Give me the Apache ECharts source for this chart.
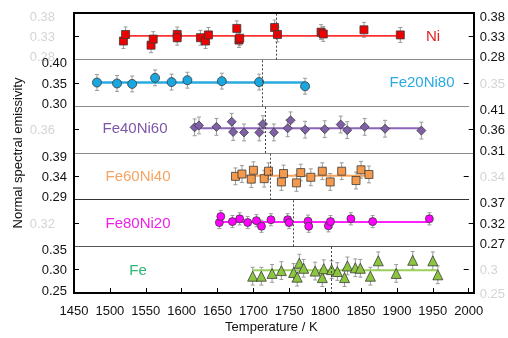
<!DOCTYPE html>
<html><head><meta charset="utf-8">
<script src="https://cdn.jsdelivr.net/npm/echarts@6/dist/echarts.min.js"></script>
<style>html,body{margin:0;padding:0;background:#fff}#c{width:508px;height:338px}</style>
</head><body><div id="c"></div>
<script>
// ---- data ----
const panelNames = ['Ni', 'Fe20Ni80', 'Fe40Ni60', 'Fe60Ni40', 'Fe80Ni20', 'Fe'];

const niT = [1518,1521,1556,1559,1592,1592,1624,1631,1635,1674,1677,1678,1726,1730,1790,1793,1849,1899];
const niV = [0.320,0.334,0.311,0.324,0.334,0.327,0.327,0.320,0.333,0.347,0.322,0.326,0.349,0.334,0.339,0.335,0.344,0.333];

const fe20T = [1482,1510,1531,1563,1586,1608,1656,1708,1772];
const fe20V = [0.351,0.349,0.348,0.361,0.352,0.356,0.354,0.352,0.343];

const fe40T = [1616,1622,1646,1667,1669,1684,1705,1710,1725,1744,1748,1768,1795,1817,1826,1850,1878,1928];
const fe40V = [0.365,0.369,0.366,0.377,0.355,0.354,0.354,0.372,0.354,0.363,0.380,0.360,0.361,0.371,0.359,0.366,0.362,0.358];

const fe60T = [1675,1684,1697,1700,1715,1721,1739,1742,1760,1766,1780,1796,1807,1823,1843,1850,1861];
const fe60V = [0.340,0.345,0.334,0.353,0.335,0.351,0.328,0.346,0.326,0.348,0.338,0.351,0.328,0.351,0.331,0.354,0.344];

const fe80T = [1650,1652,1668,1678,1689,1701,1708,1721,1744,1746,1772,1773,1800,1803,1831,1861,1939];
const fe80V = [0.321,0.334,0.323,0.329,0.321,0.325,0.313,0.327,0.327,0.321,0.324,0.313,0.314,0.323,0.329,0.323,0.329];

const feT = [1699,1711,1726,1739,1756,1761,1764,1770,1786,1796,1798,1809,1817,1827,1831,1842,1849,1863,1874,1899,1922,1950,1957];
const feV = [0.286,0.286,0.292,0.298,0.294,0.284,0.314,0.303,0.297,0.283,0.302,0.300,0.296,0.283,0.308,0.304,0.303,0.286,0.319,0.292,0.320,0.319,0.289];

const errHalf   = [0.016, 0.017, 0.018, 0.018, 0.013, 0.019];
const fitLevel  = [0.331, 0.351, 0.363, 0.341, 0.322, 0.299];
const fitStart  = [1518, 1482, 1616, 1675, 1650, 1699];
const fitEnd    = [1899, 1772, 1928, 1861, 1939, 1957];
const liquidus  = [1728, 1712, 1713, 1723, 1752, 1808];

const yMin = [0.28, 0.30, 0.31, 0.29, 0.27, 0.25];
const yMax = [0.38, 0.40, 0.41, 0.39, 0.37, 0.35];
const yMid = [0.33, 0.35, 0.36, 0.34, 0.32, 0.30];

const xTicks = [1450, 2000, 50];
const xTitle = 'Temperature / K';
const yTitle = 'Normal spectral emissivity';

// ---- styles ----
const allT = [niT, fe20T, fe40T, fe60T, fe80T, feT];
const allV = [niV, fe20V, fe40V, fe60V, fe80V, feV];
const symbols = ['rect', 'circle', 'diamond', 'rect', 'circle', 'triangle'];
const symSize = [8, 9, 9, 8, 8, 10];
const fillCol = ['#ee0000', '#1aa6df', '#7f5fa8', '#f59a4c', '#ff00ff', '#8cc63f'];
const lineCol = ['#ff3030', '#29abe2', '#8c65b8', '#f7a35c', '#ff22ff', '#9bd05a'];
const lineW   = [1.6, 2.5, 2, 2, 2, 2];
const labCol  = ['#e31e24', '#29abe2', '#7e57a8', '#f5a462', '#ee1fe6', '#2bb673'];
const labPos  = [[433, 37], [422, 83], [135, 129], [138, 177], [138, 224], [138, 271]];
const sepCol  = ['#8a8a8a', '#8a8a8a', '#8a8a8a', '#333', '#555', '#000'];

const L = 74, T0 = 13, W = 400, H = 280, PH = H / 6;
const FONT = 'Liberation Sans, Arial, sans-serif';

function lab(v, i, col) {
  const s = (Math.abs(v - yMax[i]) < 1e-6) ? 't' : (Math.abs(v - yMin[i]) < 1e-6 ? 'b' : 'm');
  return '{' + s + '|' + v.toFixed(2) + '}';
}
function richFor(col) {
  return {
    t: {padding: [8, 0, 0, 0], fontSize: 13, color: col, fontFamily: FONT},
    m: {padding: [2, 0, 0, 0], fontSize: 13, color: col, fontFamily: FONT},
    b: {padding: [0, 0, 4, 0], fontSize: 13, color: col, fontFamily: FONT}
  };
}
const GHOST = '#d4d4d4';

const grids = [], xAxes = [], yAxes = [], series = [];
for (let i = 0; i < 6; i++) {
  grids.push({left: L, top: T0 + i * PH, width: W, height: PH, show: false});
  const last = i === 5;
  xAxes.push({
    type: 'value', gridIndex: i, min: xTicks[0], max: xTicks[1], interval: xTicks[2],
    position: 'bottom',
    axisLine: {show: true, onZero: false, lineStyle: {color: sepCol[i], width: last ? 2 : 1}},
    axisTick: {show: last, inside: true, length: 5, lineStyle: {color: '#000', width: 1}},
    axisLabel: {show: last, margin: 12, fontSize: 13, color: '#111', fontFamily: FONT,
                formatter: (v) => String(v)},
    splitLine: {show: false},
    name: last ? xTitle : '', nameLocation: 'middle', nameGap: 28,
    nameTextStyle: {fontSize: 13, color: '#111', fontFamily: FONT}
  });
  const blackRight = (i % 2 === 0);
  let ghostVals = [yMid[i]];
  if (i === 0) ghostVals = [yMin[i], yMid[i], yMax[i]];
  if (i === 5) ghostVals = [yMin[i], yMid[i]];
  const mk = (pos) => {
    const isBlack = (pos === 'right') === blackRight;
    const col = isBlack ? '#111' : GHOST;
    return {
      type: 'value', gridIndex: i, min: yMin[i], max: yMax[i], position: pos,
      axisLine: {show: false},
      axisTick: {show: true, inside: true, length: 5, customValues: [yMid[i]], lineStyle: {color: '#000', width: 1}},
      axisLabel: {
        show: true, customValues: isBlack ? [yMin[i], yMid[i], yMax[i]] : ghostVals,
        margin: isBlack ? (pos === 'left' ? 7 : 6) : (pos === 'left' ? 19 : 11),
        formatter: (v) => (i === 5 && !isBlack) ? ('{m|' + String(Math.round(v * 100) / 100) + '}') : lab(v, i, col),
        rich: richFor(col)
      },
      splitLine: {show: false}
    };
  };
  yAxes.push(mk('left'));
  yAxes.push(mk('right'));

  const pts = allT[i].map((t, k) => [t, allV[i][k], errHalf[i]]);
  series.push({
    type: 'custom', xAxisIndex: i, yAxisIndex: 2 * i, z: 2, silent: true,
    encode: {x: 0, y: 1},
    data: pts,
    renderItem: (params, api) => {
      const x = api.value(0), y = api.value(1), e = api.value(2);
      const a = api.coord([x, y + e]), b = api.coord([x, y - e]);
      const w = 2;
      const st = {stroke: '#9a9a9a', lineWidth: 1};
      return {type: 'group', children: [
        {type: 'line', shape: {x1: a[0], y1: a[1], x2: b[0], y2: b[1]}, style: st},
        {type: 'line', shape: {x1: a[0] - w, y1: a[1], x2: a[0] + w, y2: a[1]}, style: st},
        {type: 'line', shape: {x1: b[0] - w, y1: b[1], x2: b[0] + w, y2: b[1]}, style: st}
      ]};
    }
  });
  series.push({
    type: 'line', xAxisIndex: i, yAxisIndex: 2 * i, z: 3, silent: true,
    data: [[fitStart[i], fitLevel[i]], [fitEnd[i], fitLevel[i]]],
    showSymbol: false, lineStyle: {color: lineCol[i], width: lineW[i]},
    markLine: {
      symbol: 'none', silent: true, label: {show: false},
      lineStyle: {type: [2, 2], color: '#444', width: 1},
      data: [{xAxis: liquidus[i]}]
    }
  });
  series.push({
    type: 'scatter', xAxisIndex: i, yAxisIndex: 2 * i, z: 4, silent: true,
    symbol: symbols[i], symbolSize: symSize[i],
    data: allT[i].map((t, k) => [t, allV[i][k]]),
    itemStyle: {color: fillCol[i], borderColor: '#3a3a3a', borderWidth: 0.8, opacity: 1}
  });
}

const graphics = [
  {type: 'rect', z: 100, shape: {x: L, y: T0, width: W, height: H}, style: {fill: null, stroke: '#000', lineWidth: 2}},
  {type: 'text', z: 100, x: 18, y: T0 + H / 2, rotation: Math.PI / 2,
   style: {text: yTitle, fontSize: 13, fill: '#111', font: '13px ' + FONT, textAlign: 'center', textVerticalAlign: 'middle'}}
];
panelNames.forEach((n, i) => {
  graphics.push({type: 'text', z: 100, x: labPos[i][0], y: labPos[i][1],
    style: {text: n, fill: labCol[i], font: '15px ' + FONT, textAlign: 'center', textVerticalAlign: 'middle'}});
});

const chart = echarts.init(document.getElementById('c'), null, {renderer: 'canvas'});
chart.setOption({
  animation: false,
  backgroundColor: '#fff',
  grid: grids, xAxis: xAxes, yAxis: yAxes, series: series, graphic: graphics
});
</script></body></html>
